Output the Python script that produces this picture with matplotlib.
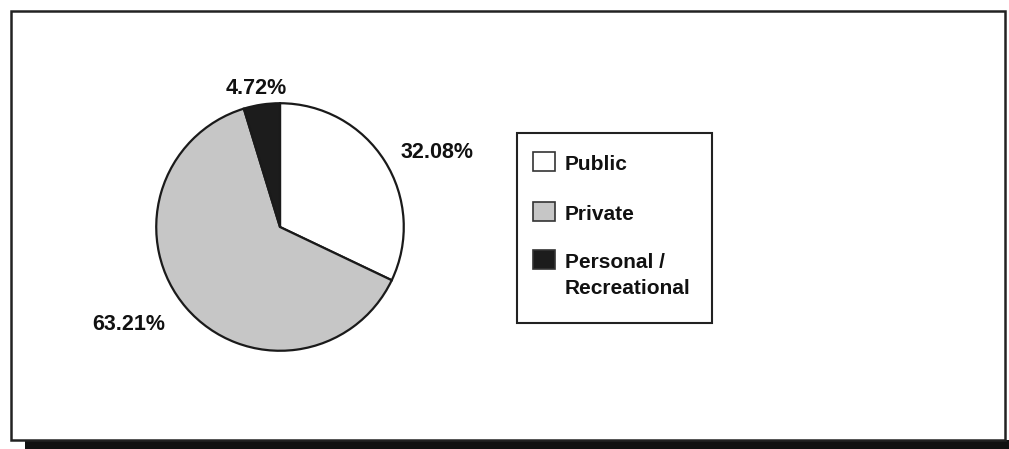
import matplotlib.pyplot as plt
from matplotlib.patches import Rectangle

labels = ["Public", "Private", "Personal /\nRecreational"]
shares = [32.08, 63.21, 4.72]
pct_text = ["32.08%", "63.21%", "4.72%"]
colors = ["#ffffff", "#c6c6c6", "#1c1c1c"]

plt.rcParams["font.family"] = ["Liberation Sans", "DejaVu Sans"]

W, H = 1009, 449
fig = plt.figure(figsize=(W / 100, H / 100), dpi=100)
fig.patch.set_facecolor("white")


def px_rect(x0, y0, x1, y1, **kw):
    # rectangle given in pixel coordinates measured from the top-left corner
    return Rectangle((x0 / W, 1 - y1 / H), (x1 - x0) / W, (y1 - y0) / H,
                     transform=fig.transFigure, **kw)


def px_text(x, y, s, **kw):
    return fig.text(x / W, 1 - y / H, s, **kw)


# outer chart frame with a heavy drop shadow along the bottom
fig.patches.append(px_rect(25, 440, W, H, facecolor="#111111", edgecolor="none", zorder=-3))
fig.patches.append(px_rect(11, 11, 1005, 440, facecolor="white", edgecolor="#222222",
                           linewidth=1.8, zorder=-2))

# pie, radius ~125 px centred at (280, 227)
r = 125
ax = fig.add_axes([(280 - r) / W, (H - 227 - r) / H, 2 * r / W, 2 * r / H])
ax.pie(shares, colors=colors, startangle=90, counterclock=False, radius=1.0,
       wedgeprops=dict(edgecolor="#1a1a1a", linewidth=1.6))
ax.set_xlim(-1.01, 1.01)
ax.set_ylim(-1.01, 1.01)
ax.set_aspect("equal")
ax.axis("off")

# percentage labels outside the slices
label_pos = [(437, 152), (129, 325), (256, 88)]
for txt, (x, y) in zip(pct_text, label_pos):
    px_text(x, y, txt, fontsize=15.5, fontweight="bold", ha="center", va="center",
            color="#111111")

# legend box drawn by hand so the padding matches the layout
fig.patches.append(px_rect(517, 133, 712, 323, facecolor="white", edgecolor="#222222",
                           linewidth=1.5, zorder=2))
entry_y = [162, 212, 260]
for lab, col, y in zip(labels, colors, entry_y):
    fig.patches.append(px_rect(533, y - 10, 555, y + 9, facecolor=col, edgecolor="#333333",
                               linewidth=1.2, zorder=3))
    for k, line in enumerate(lab.split("\n")):
        px_text(565, y + 8 + 26 * k, line, fontsize=15, fontweight="bold", ha="left",
                va="baseline", color="#111111", zorder=4)

fig.savefig("out.png", dpi=100)
